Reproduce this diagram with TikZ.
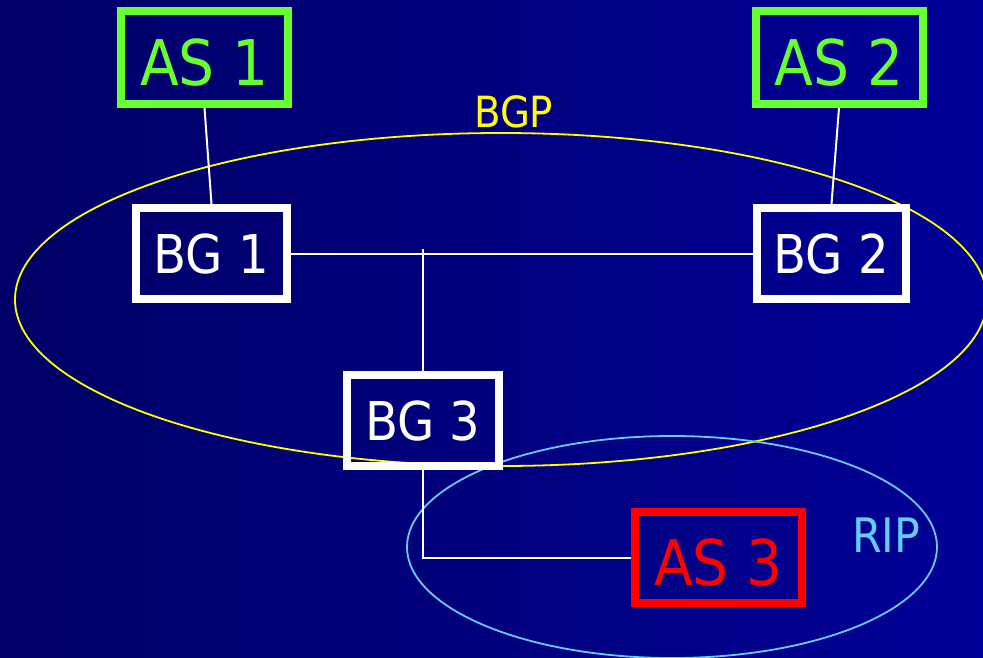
\documentclass[tikz,border=0pt]{standalone}
\usepackage{fontspec}
\setmainfont{DejaVu Sans Condensed}
\definecolor{navyL}{RGB}{0,0,102}
\definecolor{navyR}{RGB}{0,0,150}
\definecolor{asgreen}{RGB}{102,255,51}
\definecolor{bgpyellow}{RGB}{255,255,0}
\definecolor{ripblue}{RGB}{102,204,255}
\definecolor{asred}{RGB}{255,0,0}
\tikzset{
  asbox/.style={draw, line width=8pt, minimum width=167pt, minimum height=93pt,
    inner sep=0pt, font=\fontsize{63pt}{63pt}\selectfont, text height=56pt, text depth=0pt},
  bgbox/.style={draw=white, text=white, line width=8pt, minimum width=151pt, minimum height=91pt,
    inner sep=0pt, font=\fontsize{53.5pt}{53.5pt}\selectfont, text height=39pt, text depth=0pt},
  link/.style={draw=white, line width=2pt},
  area/.style={line width=1.8pt},
  arealabel/.style={inner sep=0pt, text depth=0pt}
}
\begin{document}
\begin{tikzpicture}[x=1pt, y=-1pt]
  % backdrop with a left-to-right navy shading
  \shade[left color=navyL, right color=navyR] (0,0) rectangle (983,657);
  \useasboundingbox (0,0) rectangle (983,657);

  % protocol areas
  \draw[area, bgpyellow] (501,299.5) ellipse [x radius=486, y radius=166.5];
  \draw[area, ripblue] (672,547) ellipse [x radius=265, y radius=111];

  % autonomous systems
  \node[asbox, draw=asgreen, text=asgreen] (as1) at (204.5,57.5) {AS 1};
  \node[asbox, draw=asgreen, text=asgreen] (as2) at (839,57.5) {AS 2};
  \node[asbox, draw=asred, text=asred, minimum height=91pt] (as3) at (718.5,557.5) {AS 3};

  % border gateways
  \node[bgbox] (bg1) at (211.5,253.5) {BG 1};
  \node[bgbox, minimum width=149pt] (bg2) at (831.5,253.5) {BG 2};
  \node[bgbox, minimum width=152pt] (bg3) at (423,420.5) {BG 3};

  % area labels
  \node[arealabel, text=bgpyellow, font=\fontsize{43pt}{43pt}\selectfont, text height=31pt, anchor=south west] (bgp) at (474,128) {BGP};
  \node[arealabel, text=ripblue, font=\fontsize{47.5pt}{47.5pt}\selectfont, text height=34pt, anchor=south west] (rip) at (852,553) {RIP};

  % links
  \coordinate (j) at (423,249);
  \draw[link] (as1.south) -- (bg1.north);
  \draw[link] (as2.south) -- (bg2.north);
  \draw[link] (bg1.east) -- (bg2.west);
  \draw[link] (j) -- (bg3.north);
  \draw[link] (bg3.south) |- (as3.west);
\end{tikzpicture}
\end{document}
